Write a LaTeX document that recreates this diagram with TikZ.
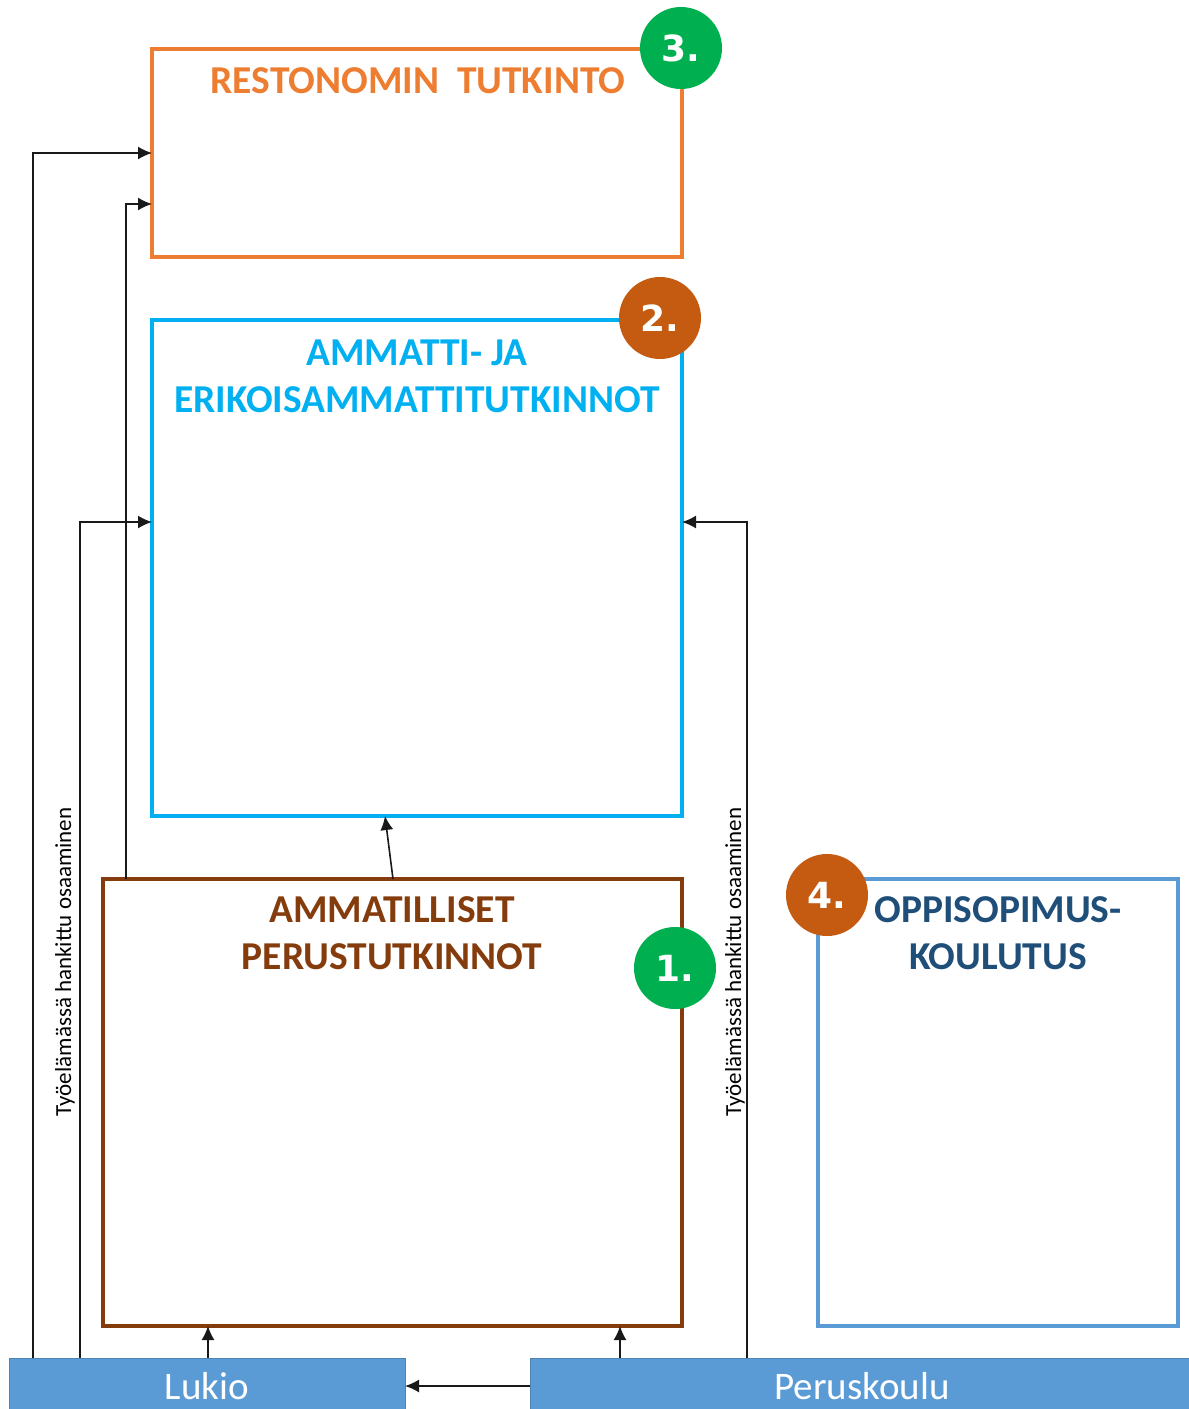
\documentclass[tikz,border=0pt]{standalone}
\usepackage{fontspec}
\setmainfont{Carlito}
\newfontfamily\badgefont{DejaVu Sans}
\usetikzlibrary{calc,arrows.meta}
\definecolor{corange}{HTML}{ED7D31}
\definecolor{ccyan}{HTML}{00B0F0}
\definecolor{cbrown}{HTML}{843C0C}
\definecolor{crust}{HTML}{C55A11}
\definecolor{cgreen}{HTML}{00B050}
\definecolor{cblue}{HTML}{5B9BD5}
\definecolor{cnavy}{HTML}{1F4E79}
\tikzset{
  box/.style={draw, line width=3.6pt, rectangle, inner sep=0pt, outer sep=0pt},
  bar/.style={fill=cblue, draw=cblue!85!black, line width=0.6pt, rectangle, inner sep=0pt, outer sep=0pt, text=white, font=\fontsize{39}{44}\selectfont},
  title/.style={align=center, font=\bfseries\fontsize{39.5}{47}\selectfont, inner sep=0pt},
  badge/.style={circle, minimum size=82pt, inner sep=0pt, text=white, font=\badgefont\bfseries\fontsize{36}{40}\selectfont},
  arr/.style={line width=1.6pt, draw=black!90, -{Latex[length=14pt,width=13pt]}},
  side/.style={rotate=90, font=\fontsize{23}{26}\selectfont, inner sep=0pt}
}
\begin{document}
\begin{tikzpicture}[x=1pt,y=-1pt]
\useasboundingbox[fill=white] (0,0) rectangle (1189,1409);
% boxes
\node[box, draw=corange, minimum width=530pt, minimum height=208pt] (rest) at (417,153) {};
\node[box, draw=ccyan, minimum width=530pt, minimum height=496pt] (amm) at (417,568) {};
\node[box, draw=cbrown, minimum width=579pt, minimum height=447pt] (per) at (392.5,1102.5) {};
\node[box, draw=cblue, minimum width=360pt, minimum height=447pt] (oppi) at (998,1102.5) {};
% bars
\node[bar, minimum width=396pt, minimum height=56pt] (lukio) at (207,1386) {Lukio};
\node[bar, minimum width=664pt, minimum height=56pt] (perus) at (862,1386) {Peruskoulu};
% titles
\node[title, text=corange] (t3) at (418,81) {RESTONOMIN\ \ TUTKINTO};
\node[title, text=ccyan] (t2) at (417,376) {AMMATTI- JA\\ERIKOISAMMATTITUTKINNOT};
\node[title, text=cbrown] (t1) at (392,933) {AMMATILLISET\\PERUSTUTKINNOT};
\node[title, text=cnavy] (t4) at (998,933) {OPPISOPIMUS-\\KOULUTUS};
% side labels
\node[side] (s1) at (65,962) {Työelämässä hankittu osaaminen};
\node[side] (s2) at (735,962) {Työelämässä hankittu osaaminen};
% connectors
\coordinate (l1) at ($(lukio.north west)+(24,0)$);
\coordinate (l2) at ($(lukio.north west)+(71,0)$);
\coordinate (l3) at ($(lukio.north)+(1,0)$);
\coordinate (b1) at ($(per.north west)+(23,0)$);
\coordinate (p1) at ($(perus.north west)+(90,0)$);
\coordinate (p2) at ($(perus.north west)+(217,0)$);
\draw[arr] (l1) |- (rest.west);
\draw[arr] (b1) |- ($(rest.south west)+(0,-53)$);
\draw[arr] (l2) |- ($(amm.west)+(0,-46)$);
\draw[arr] (p2) |- ($(amm.east)+(0,-46)$);
\draw[arr] ($(per.north)+(0.5,0)$) -- ($(amm.south)+(-32,0)$);
\draw[arr] (l3) -- (l3 |- per.south);
\draw[arr] (p1) -- (p1 |- per.south);
\draw[arr] (perus.west) -- (lukio.east);
% badges
\node[badge, fill=cgreen] (c3) at (681,48) {3.};
\node[badge, fill=crust] (c2) at (660,318) {2.};
\node[badge, fill=cgreen] (c1) at (675,968) {1.};
\node[badge, fill=crust] (c4) at (827,895) {4.};
\end{tikzpicture}
\end{document}
